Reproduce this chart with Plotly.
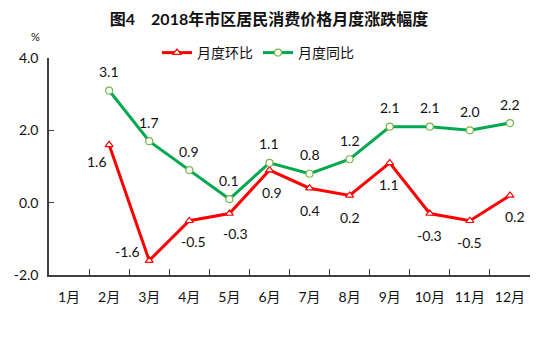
import plotly.graph_objects as go

months = ["1月", "2月", "3月", "4月", "5月", "6月", "7月", "8月", "9月", "10月", "11月", "12月"]
mom = [None, 1.6, -1.6, -0.5, -0.3, 0.9, 0.4, 0.2, 1.1, -0.3, -0.5, 0.2]   # 月度环比
yoy = [None, 3.1, 1.7, 0.9, 0.1, 1.1, 0.8, 1.2, 2.1, 2.1, 2.0, 2.2]        # 月度同比
y_ticks = [-2.0, 0.0, 2.0, 4.0]

FONT = "Lato, 'Noto Sans CJK SC', sans-serif"
RED = "#FF0000"
GREEN = "#00A84F"
GREEN_MK = "#7AB648"
AXIS = "#404040"
TXT = "#111111"

W, H = 554, 342
L, R, T, B = 49, 24, 58, 67
pw, ph = W - L - R, H - T - B

fig = go.Figure()
fig.add_trace(go.Scatter(
    x=months, y=mom, name="月度环比", mode="lines+markers",
    line=dict(color=RED, width=3),
    marker=dict(symbol="triangle-up", size=7, color="white", line=dict(width=1.2, color=RED)),
))
fig.add_trace(go.Scatter(
    x=months, y=yoy, name="月度同比", mode="lines+markers",
    line=dict(color=GREEN, width=3),
    marker=dict(symbol="circle", size=7, color="white", line=dict(width=1.2, color=GREEN_MK)),
))

# label offsets (px) for each month
mom_dx = [0, -12, -22, 4, 6, 3, 0, 0, -1, 0, 0, 5]
mom_dy = [0, -17, 9, -21, -20, -22, -22, -22, -22, -22, -22, -21]
yoy_dx = [0] * 12
yoy_dy = [0] + [19] * 11

annotations = []
for series, dxs, dys in ((mom, mom_dx, mom_dy), (yoy, yoy_dx, yoy_dy)):
    for m, v, dx, dy in zip(months, series, dxs, dys):
        if v is None:
            continue
        annotations.append(dict(
            x=m, y=v, text=f"{v:.1f}", showarrow=False,
            xshift=dx, yshift=dy, font=dict(family=FONT, size=14, color=TXT),
        ))

# unit label above the value axis
annotations.append(dict(
    x=(35 - L) / pw, y=(H - B - 36) / ph, xref="paper", yref="paper",
    xanchor="center", yanchor="middle", text="%", showarrow=False,
    font=dict(family=FONT, size=11, color=TXT),
))

fig.update_layout(
    width=W, height=H,
    margin=dict(l=L, r=R, t=T, b=B),
    paper_bgcolor="white", plot_bgcolor="white",
    font=dict(family=FONT, size=14, color=TXT),
    title=dict(
        text="<b>图4　2018年市区居民消费价格月度涨跌幅度</b>",
        x=269 / W, xanchor="center", y=1 - 19 / H, yanchor="middle",
        font=dict(family=FONT, size=16, color=TXT),
    ),
    legend=dict(
        orientation="h", x=(258 - L) / pw, xanchor="center", y=1 + (T - 53) / ph, yanchor="middle",
        font=dict(family=FONT, size=14, color=TXT),
        bgcolor="rgba(0,0,0,0)", itemwidth=30,
    ),
    showlegend=True,
    annotations=annotations,
)
fig.update_xaxes(
    type="category", categoryorder="array", categoryarray=months,
    range=[-0.5, 11.5], showgrid=False, zeroline=False,
    showline=True, linecolor=AXIS, linewidth=1.5,
    ticks="inside", tickson="boundaries", ticklen=6, tickcolor=AXIS, tickwidth=1.2,
    tickfont=dict(family=FONT, size=14, color=TXT),
    ticklabelstandoff=8,
)
fig.update_yaxes(
    range=[-2, 4], tickvals=y_ticks, ticktext=[f"{t:.1f}" for t in y_ticks],
    showgrid=False, zeroline=False,
    showline=True, linecolor=AXIS, linewidth=1.5,
    ticks="inside", ticklen=5, tickcolor=AXIS, tickwidth=1.2,
    tickfont=dict(family=FONT, size=14, color=TXT),
    ticklabelstandoff=6,
)

fig.write_html("out.html")
